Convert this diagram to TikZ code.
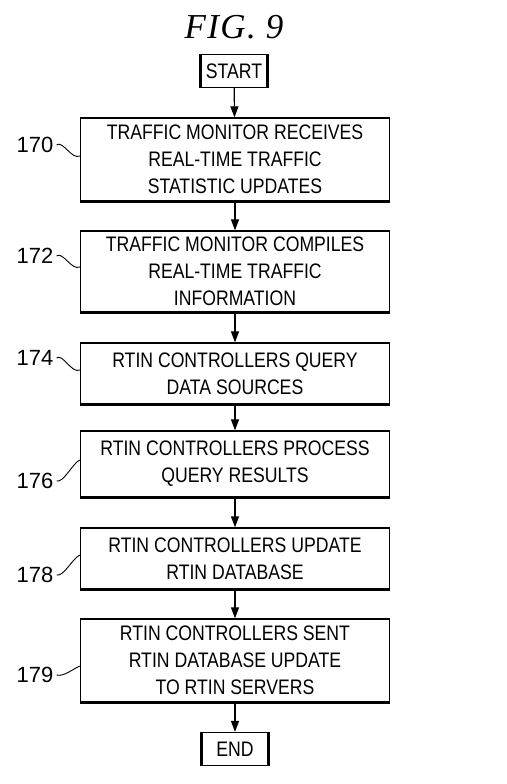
\documentclass[tikz,border=0pt]{standalone}
\usepackage{fontspec}
\usetikzlibrary{arrows.meta,calc}
\newfontfamily\boxfont[FakeStretch=0.84]{Liberation Sans}
\newfontfamily\numfont{Liberation Sans}
\newfontfamily\figfont[LetterSpace=4]{Liberation Serif}

\tikzset{
  flowbox/.style={draw, line width=1.3pt, minimum width=309pt, align=center,
    inner sep=2pt, font=\boxfont\fontsize{21}{27}\selectfont},
  termbox/.style={draw, line width=1.3pt, minimum width=66pt, minimum height=33pt,
    inner sep=2pt, font=\boxfont\fontsize{21}{27}\selectfont},
  flowarrow/.style={-{Triangle[length=11pt,width=8pt]}, line width=1.2pt},
  refnum/.style={inner sep=3pt, font=\numfont\fontsize{22}{22}\selectfont},
  lead/.style={line width=0.9pt},
}

\begin{document}
\begin{tikzpicture}[x=1pt,y=-1pt]
    \useasboundingbox (0,0) rectangle (506,784);

    % Figure title
    \node[font=\figfont\itshape\fontsize{35}{35}\selectfont] (title) at (234,27) {FIG. 9};

    % Terminals
    \node[termbox] (start) at (234,71) {START};
    \node[termbox] (end) at (235,749) {END};
    \foreach \t in {start,end} {
        \draw[line width=3pt] (\t.north west) -- (\t.south west);
        \draw[line width=3pt] (\t.north east) -- (\t.south east);
    }

    % Process steps
    \node[flowbox, minimum height=83pt] (b170) at (235,159.5)
        {TRAFFIC MONITOR RECEIVES\\REAL-TIME TRAFFIC\\STATISTIC UPDATES};
    \node[flowbox, minimum height=81pt] (b172) at (235,271.5)
        {TRAFFIC MONITOR COMPILES\\REAL-TIME TRAFFIC\\INFORMATION};
    \node[flowbox, minimum height=61pt] (b174) at (235,373.5)
        {RTIN CONTROLLERS QUERY\\DATA SOURCES};
    \node[flowbox, minimum height=66pt] (b176) at (235,464)
        {RTIN CONTROLLERS PROCESS\\QUERY RESULTS};
    \node[flowbox, minimum height=61pt] (b178) at (235,558.5)
        {RTIN CONTROLLERS UPDATE\\RTIN DATABASE};
    \node[flowbox, minimum height=83pt] (b179) at (235,660.5)
        {RTIN CONTROLLERS SENT\\RTIN DATABASE UPDATE\\TO RTIN SERVERS};

    % Heavier bottom edges
    \foreach \b in {b170,b172,b174,b176,b178,b179}
        \draw[line width=2.2pt] (\b.south west) -- (\b.south east);

    % Flow arrows
    \draw[flowarrow] (start) -- (b170);
    \draw[flowarrow] (b170) -- (b172);
    \draw[flowarrow] (b172) -- (b174);
    \draw[flowarrow] (b174) -- (b176);
    \draw[flowarrow] (b176) -- (b178);
    \draw[flowarrow] (b178) -- (b179);
    \draw[flowarrow] (b179) -- (end);

    % Reference numerals
    \node[refnum] (l170) at (35,145) {170};
    \node[refnum] (l172) at (35,256) {172};
    \node[refnum] (l174) at (35,358) {174};
    \node[refnum] (l176) at (35,481) {176};
    \node[refnum] (l178) at (35,575) {178};
    \node[refnum] (l179) at (35,675) {179};

    % Lead lines
    \foreach \n/\s in {170/3.5,172/4.5,174/3.5}
        \draw[lead] (l\n.east) .. controls +(6,-5) and +(-8,4) .. ([yshift=\s pt]b\n.west);
    \foreach \n/\s in {176/4,178/3.5,179/-5.5}
        \draw[lead] (l\n.east) .. controls +(7,2) and +(-7,3) .. ([yshift=\s pt]b\n.west);
\end{tikzpicture}
\end{document}
